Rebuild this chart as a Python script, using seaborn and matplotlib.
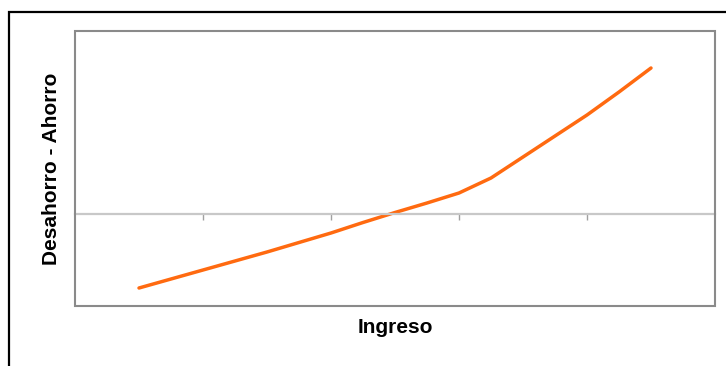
import matplotlib
matplotlib.use("Agg")
import matplotlib.pyplot as plt
import seaborn as sns
import pandas as pd
from matplotlib.patches import Rectangle

# Data (income level vs dissaving/saving, arbitrary units)
ingreso = list(range(1, 18))
ahorro = [-7.4, -6.5, -5.6, -4.7, -3.8, -2.85, -1.9, -0.85, 0.15,
          1.1, 2.1, 3.6, 5.7, 7.8, 9.9, 12.2, 14.6]
x_ticks = [3, 7, 11, 15]

df = pd.DataFrame({"Ingreso": ingreso, "Desahorro - Ahorro": ahorro})

sns.set_style("white")
plt.rcParams["font.family"] = ["Liberation Sans", "DejaVu Sans"]

fig = plt.figure(figsize=(7.26, 3.66), dpi=100)
ax = fig.add_axes([75 / 726, 60 / 366, 640 / 726, 275 / 366])

sns.lineplot(data=df, x="Ingreso", y="Desahorro - Ahorro", color="#FF6A10",
             linewidth=2.5, ax=ax)

ax.set_xlim(-1, 19)
ax.set_ylim(-9.2, 18.3)

# zero line carries the category ticks
for side in ["top", "left", "right"]:
    ax.spines[side].set_visible(False)
ax.spines["bottom"].set_position(("data", 0))
ax.spines["bottom"].set_color("#c8c8c8")
ax.spines["bottom"].set_linewidth(1.6)
ax.set_xticks(x_ticks)
ax.set_xticklabels([])
ax.set_yticks([])
ax.tick_params(axis="x", direction="out", length=4, width=1, color="#a0a0a0",
               bottom=True)

# plot area frame
ax.add_patch(Rectangle((0, 0), 1, 1, transform=ax.transAxes, fill=False,
                       edgecolor="#8a8a8a", linewidth=1.5, clip_on=False, zorder=5))

ax.set_xlabel("Ingreso", fontsize=15, fontweight="bold", color="black")
ax.xaxis.set_label_coords(0.5, -0.042)
ax.set_ylabel("Desahorro - Ahorro", fontsize=15, fontweight="bold",
              color="black", labelpad=10)

# outer chart border (only top and left visible in the crop)
fig.patches.append(Rectangle((9 / 726, -0.2), 1.2, 1 - 12 / 366 + 0.2,
                             transform=fig.transFigure, fill=False,
                             edgecolor="black", linewidth=1.6))

fig.savefig("out.png", dpi=100, facecolor="white")
